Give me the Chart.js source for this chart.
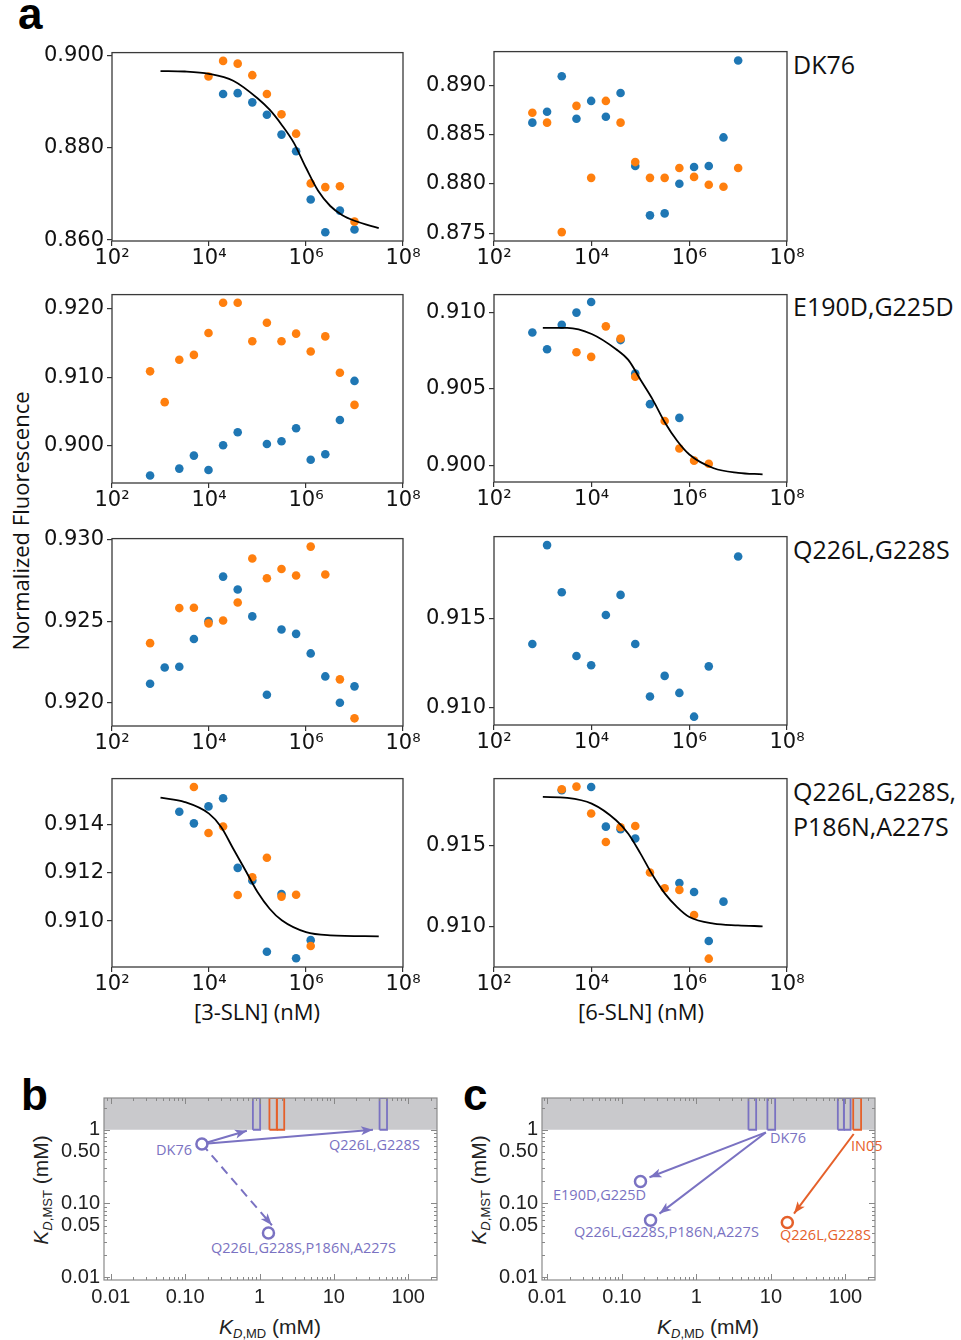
<!DOCTYPE html>
<html><head><meta charset="utf-8">
<script src="https://cdn.jsdelivr.net/npm/chart.js@4.4.1/dist/chart.umd.min.js"></script>
<style>
html,body{margin:0;padding:0;background:#fff}
body{width:961px;height:1340px;position:relative;overflow:hidden}
.t{position:absolute;white-space:nowrap;line-height:1}
.ctr{transform:translate(-50%,-50%)}
.vc{transform:translateY(-50%)}
.rot{transform:translate(-50%,-50%) rotate(-90deg)}
.lab{font-family:'Open Sans';font-size:25px;color:#111}
.ann{font-family:'Open Sans';font-size:14.5px;color:#7a72c2}
.ann.o{color:#e5602a}
.big{font-family:'Liberation Sans';font-weight:bold;font-size:44px;color:#000;line-height:44px}
.ax{font-family:'Liberation Sans';font-size:21px;color:#222}
.ax sub{font-size:13px;vertical-align:-4px;line-height:0}
</style></head><body>

<div class="t big" style="left:18px;top:-8px">a</div>
<div class="t big" style="left:21px;top:1073px">b</div>
<div class="t big" style="left:463px;top:1073px">c</div>

<div class="t lab vc" style="left:793px;top:64px">DK76</div>
<div class="t lab vc" style="left:793px;top:306px">E190D,G225D</div>
<div class="t lab vc" style="left:793px;top:549px">Q226L,G228S</div>
<div class="t lab vc" style="left:793px;top:791px">Q226L,G228S,</div>
<div class="t lab vc" style="left:793px;top:826px">P186N,A227S</div>

<div class="t lab rot" style="left:20px;top:521px;font-size:22px">Normalized Fluorescence</div>
<div class="t lab ctr" style="left:257px;top:1011px;font-size:22px">[3-SLN] (nM)</div>
<div class="t lab ctr" style="left:641px;top:1011px;font-size:22px">[6-SLN] (nM)</div>

<div class="t ax rot" style="left:40px;top:1190px"><i>K</i><sub><i>D</i>,MST</sub> (mM)</div>
<div class="t ax rot" style="left:478px;top:1190px"><i>K</i><sub><i>D</i>,MST</sub> (mM)</div>
<div class="t ax ctr" style="left:270px;top:1326px"><i>K</i><sub><i>D</i>,MD</sub> (mM)</div>
<div class="t ax ctr" style="left:708px;top:1326px"><i>K</i><sub><i>D</i>,MD</sub> (mM)</div>

<div class="t ann" style="right:714px;top:1119px;transform:translateY(-50%)">E190D,G225D</div>
<div class="t ann vc" style="left:156px;top:1150px">DK76</div>
<div class="t ann vc" style="left:329px;top:1145px">Q226L,G228S</div>
<div class="t ann vc" style="left:211px;top:1248px">Q226L,G228S,P186N,A227S</div>

<div class="t ann vc" style="left:770px;top:1138px">DK76</div>
<div class="t ann o vc" style="left:851px;top:1146px">IN05</div>
<div class="t ann vc" style="left:553px;top:1195px">E190D,G225D</div>
<div class="t ann vc" style="left:574px;top:1232px">Q226L,G228S,P186N,A227S</div>
<div class="t ann o vc" style="left:780px;top:1235px">Q226L,G228S</div>

<script>
// ---------- DATA (panel a) ----------
const X_TICKS_A = [1e2, 1e4, 1e6, 1e8];
const X_TICK_LABELS_A = ['10²', '10⁴', '10⁶', '10⁸'];

// Row 1 : DK76
const A1_ORANGE_X = [9766, 19531, 39063, 78125, 156250, 312500, 625000, 1250000, 2500000, 5000000, 10000000];
const A1_ORANGE_Y = [0.8955, 0.8989, 0.8983, 0.8958, 0.8917, 0.8873, 0.8831, 0.8723, 0.8715, 0.8717, 0.8640];
const A1_BLUE_X = [19531, 39063, 78125, 156250, 312500, 625000, 1250000, 2500000, 5000000, 10000000];
const A1_BLUE_Y = [0.8917, 0.8919, 0.8899, 0.8872, 0.8829, 0.8793, 0.8688, 0.8617, 0.8664, 0.8623];
const A1_FIT_X = [1000, 3162, 10000, 31623, 100000, 177828, 316228, 562341, 1000000, 1778279, 3162278, 5623413, 10000000, 31622777];
const A1_FIT_Y = [0.8967, 0.8966, 0.8961, 0.8946, 0.8908, 0.8883, 0.8850, 0.8811, 0.8757, 0.8707, 0.8674, 0.8654, 0.8642, 0.8626];
const A1_Y_TICKS = [0.860, 0.880, 0.900];

const A2_X = [610, 1221, 2441, 4883, 9766, 19531, 39063, 78125, 156250, 312500, 625000, 1250000, 2500000, 5000000, 10000000];
const A2_ORANGE_Y = [0.8872, 0.8862, 0.8751, 0.8879, 0.8806, 0.8884, 0.8862, 0.8822, 0.8806, 0.8806, 0.8816, 0.8807, 0.8799, 0.8797, 0.8816];
const A2_BLUE_Y = [0.8862, 0.8873, 0.8909, 0.8866, 0.8884, 0.8868, 0.8892, 0.8818, 0.8768, 0.8770, 0.8800, 0.8817, 0.8818, 0.8847, 0.8925];
const A2_Y_TICKS = [0.875, 0.880, 0.885, 0.890];

// Row 2 : E190D,G225D
const B1_ORANGE_X = [610, 1221, 2441, 4883, 9766, 19531, 39063, 78125, 156250, 312500, 625000, 1250000, 2500000, 5000000, 10000000];
const B1_ORANGE_Y = [0.9109, 0.9064, 0.9126, 0.9133, 0.9165, 0.9209, 0.9209, 0.9153, 0.9180, 0.9153, 0.9164, 0.9138, 0.9160, 0.9107, 0.9060];
const B1_BLUE_X = [610, 2441, 4883, 9766, 19531, 39063, 156250, 312500, 625000, 1250000, 2500000, 5000000, 10000000];
const B1_BLUE_Y = [0.8957, 0.8967, 0.8986, 0.8965, 0.9001, 0.9020, 0.9003, 0.9007, 0.9026, 0.8980, 0.8988, 0.9038, 0.9095];
const B1_Y_TICKS = [0.900, 0.910, 0.920];

const B2_BLUE_X = [610, 1221, 2441, 4883, 9766, 39063, 78125, 156250, 625000];
const B2_BLUE_Y = [0.9087, 0.9076, 0.9092, 0.9100, 0.9107, 0.9082, 0.9060, 0.9040, 0.9031];
const B2_ORANGE_X = [4883, 9766, 19531, 39063, 78125, 312500, 625000, 1250000, 2500000];
const B2_ORANGE_Y = [0.9074, 0.9071, 0.9091, 0.9083, 0.9058, 0.9029, 0.9011, 0.9003, 0.9001];
const B2_FIT_X = [1000, 3162, 10000, 31623, 56234, 100000, 177828, 316228, 562341, 1000000, 3162278, 10000000, 31622777];
const B2_FIT_Y = [0.9090, 0.9090, 0.9086, 0.9076, 0.9069, 0.9056, 0.9043, 0.9028, 0.9016, 0.9007, 0.8998, 0.8995, 0.8994];
const B2_Y_TICKS = [0.900, 0.905, 0.910];

// Row 3 : Q226L,G228S
const C1_ORANGE_X = [610, 2441, 4883, 9766, 19531, 39063, 78125, 156250, 312500, 625000, 1250000, 2500000, 5000000, 10000000];
const C1_ORANGE_Y = [0.92365, 0.92580, 0.92582, 0.92486, 0.92504, 0.92614, 0.92884, 0.92763, 0.92820, 0.92780, 0.92957, 0.92786, 0.92143, 0.91904];
const C1_BLUE_X = [610, 1221, 2441, 4883, 9766, 19531, 39063, 78125, 156250, 312500, 625000, 1250000, 2500000, 5000000, 10000000];
const C1_BLUE_Y = [0.92116, 0.92216, 0.92220, 0.92390, 0.92500, 0.92773, 0.92694, 0.92529, 0.92049, 0.92449, 0.92422, 0.92302, 0.92161, 0.92000, 0.92100];
const C1_Y_TICKS = [0.920, 0.925, 0.930];

const C2_BLUE_X = [610, 1221, 2441, 4883, 9766, 19531, 39063, 78125, 156250, 312500, 625000, 1250000, 2500000, 10000000];
const C2_BLUE_Y = [0.91358, 0.91916, 0.91650, 0.91290, 0.91238, 0.91522, 0.91635, 0.91358, 0.91062, 0.91178, 0.91082, 0.90948, 0.91232, 0.91852];
const C2_Y_TICKS = [0.910, 0.915];

// Row 4 : Q226L,G228S,P186N,A227S
const D1_ORANGE_X = [4883, 9766, 19531, 39063, 78125, 156250, 312500, 625000, 1250000];
const D1_ORANGE_Y = [0.91554, 0.91364, 0.91391, 0.91108, 0.91181, 0.91262, 0.91101, 0.91109, 0.90897];
const D1_BLUE_X = [2441, 4883, 9766, 19531, 39063, 78125, 156250, 312500, 625000, 1250000];
const D1_BLUE_Y = [0.91452, 0.91404, 0.91474, 0.91508, 0.91220, 0.91168, 0.90873, 0.91112, 0.90846, 0.90921];
const D1_FIT_X = [1000, 3162, 10000, 17783, 31623, 56234, 100000, 177828, 316228, 1000000, 3162278, 31622777];
const D1_FIT_Y = [0.91510, 0.91492, 0.91444, 0.91389, 0.91299, 0.91210, 0.91120, 0.91051, 0.91003, 0.90954, 0.90941, 0.90937];
const D1_Y_TICKS = [0.910, 0.912, 0.914];

const D2_BLUE_X = [2441, 9766, 19531, 39063, 78125, 625000, 1250000, 2500000, 5000000];
const D2_BLUE_Y = [0.91837, 0.91857, 0.91614, 0.91598, 0.91541, 0.91269, 0.91214, 0.90914, 0.91155];
const D2_ORANGE_X = [2441, 4883, 9766, 19531, 39063, 78125, 156250, 312500, 625000, 1250000, 2500000];
const D2_ORANGE_Y = [0.91843, 0.91859, 0.91694, 0.91520, 0.91610, 0.91618, 0.91333, 0.91237, 0.91227, 0.91073, 0.90806];
const D2_FIT_X = [1000, 3162, 10000, 31623, 56234, 100000, 177828, 316228, 562341, 1000000, 3162278, 10000000, 31622777];
const D2_FIT_Y = [0.91796, 0.91790, 0.91755, 0.91653, 0.91571, 0.91449, 0.91316, 0.91204, 0.91122, 0.91061, 0.91020, 0.91010, 0.91004];
const D2_Y_TICKS = [0.910, 0.915];

// ---------- DATA (panels b, c) ----------
const BC_X_TICKS = [0.01, 0.1, 1, 10, 100];
const BC_X_TICK_LABELS = ['0.01', '0.10', '1', '10', '100'];
const BC_Y_TICKS = [0.01, 0.05, 0.1, 0.5, 1];
const BC_Y_TICK_LABELS = ['0.01', '0.05', '0.10', '0.50', '1'];
const ND_THRESHOLD = 1; // K_D,MST above 1 mM not determined (grey band)

const PB_CIRCLE_X = [0.168, 1.32];
const PB_CIRCLE_Y = [0.64, 0.0397];
const PB_PURPLE_BOX_LO = [0.815, 41.2];
const PB_PURPLE_BOX_HI = [1.02, 51.9];
const PB_ORANGE_BOX_LO = [1.36, 1.71];
const PB_ORANGE_BOX_HI = [1.71, 2.15];
const PB_ARROW_FROM = [0.168, 0.64];
const PB_ARROW_TO_X = [0.676, 33.6];
const PB_ARROW_TO_Y = [0.97, 1.0];
const PB_DASH_TO = [1.47, 0.0504];

const PC_PURPLE_CIRCLE_X = [0.178, 0.243];
const PC_PURPLE_CIRCLE_Y = [0.198, 0.059];
const PC_ORANGE_CIRCLE_X = [16.6];
const PC_ORANGE_CIRCLE_Y = [0.055];
const PC_PURPLE_BOX_LO = [5.0, 8.98, 79, 95.2];
const PC_PURPLE_BOX_HI = [6.34, 11.4, 95.2, 117];
const PC_ORANGE_BOX_LO = [127];
const PC_ORANGE_BOX_HI = [162];
const PC_PURPLE_FROM = [8.55, 0.92];
const PC_PURPLE_TO_X = [0.235, 0.32];
const PC_PURPLE_TO_Y = [0.226, 0.0726];
const PC_ORANGE_FROM = [129, 0.875];
const PC_ORANGE_TO = [20.4, 0.0726];

// ---------- STYLE ----------
const BLUE = '#1f77b4', ORANGE = '#ff7f0e';
const PURPLE = '#7a72c2', ORANGE2 = '#e5602a';

const pts = (xs, ys) => xs.map((x, i) => ({x, y: ys[i]}));

const framePlugin = {
  id: 'frame',
  afterDraw(c, args, o) {
    const a = c.chartArea, ctx = c.ctx;
    ctx.save();
    ctx.strokeStyle = o.color; ctx.lineWidth = o.width;
    ctx.strokeRect(a.left, a.top, a.right - a.left, a.bottom - a.top);
    ctx.restore();
  }
};

const innerTicks = {
  id: 'innerTicks',
  afterDraw(c, args, o) {
    if (!o.on) return;
    const a = c.chartArea, ctx = c.ctx, xs = c.scales.x, ys = c.scales.y;
    ctx.save(); ctx.strokeStyle = '#888'; ctx.lineWidth = 1;
    ctx.beginPath();
    for (let e = -3; e <= 3; e++) for (let k = 1; k <= 9; k++) {
      const v = k * Math.pow(10, e), len = k === 1 ? 6 : 3;
      if (v >= xs.min && v <= xs.max) {
        const p = Math.round(xs.getPixelForValue(v)) + 0.5;
        ctx.moveTo(p, a.bottom); ctx.lineTo(p, a.bottom - len);
        ctx.moveTo(p, a.top); ctx.lineTo(p, a.top + len);
      }
      if (v >= ys.min && v <= ys.max) {
        const p = Math.round(ys.getPixelForValue(v)) + 0.5;
        ctx.moveTo(a.left, p); ctx.lineTo(a.left + len, p);
        ctx.moveTo(a.right, p); ctx.lineTo(a.right - len, p);
      }
    }
    ctx.stroke(); ctx.restore();
  }
};

const arrowHeads = {
  id: 'arrowHeads',
  afterDatasetsDraw(c) {
    const ctx = c.ctx;
    c.data.datasets.forEach((ds, i) => {
      if (!ds.arrow) return;
      const m = c.getDatasetMeta(i).data;
      const p1 = m[m.length - 2], p2 = m[m.length - 1];
      const ang = Math.atan2(p2.y - p1.y, p2.x - p1.x);
      const L = 12, W = 4.5;
      ctx.save(); ctx.fillStyle = ds.borderColor;
      ctx.translate(p2.x, p2.y); ctx.rotate(ang);
      ctx.beginPath(); ctx.moveTo(0, 0); ctx.lineTo(-L, -W); ctx.lineTo(-L + 3, 0); ctx.lineTo(-L, W); ctx.closePath(); ctx.fill();
      ctx.restore();
    });
  }
};

function makeChart(L, T, W, H, pad, cfg) {
  const cv = document.createElement('canvas');
  const cw = W + pad.l + pad.r, ch = H + pad.t + pad.b;
  cv.width = cw; cv.height = ch;
  cv.style.cssText = `position:absolute;left:${L - pad.l}px;top:${T - pad.t}px;width:${cw}px;height:${ch}px`;
  document.body.appendChild(cv);
  cfg.options.layout = {padding: {left: 0, top: pad.t, right: pad.r, bottom: 0}};
  cfg.options.responsive = false;
  cfg.options.animation = false;
  cfg.options.devicePixelRatio = 1;
  cfg.options.events = [];
  return new Chart(cv, cfg);
}

function scatterDs(xs, ys, color, order) {
  return {type: 'scatter', data: pts(xs, ys), backgroundColor: color, borderWidth: 0,
          pointRadius: 4.3, pointHoverRadius: 4.3, order, clip: false};
}
function fitDs(xs, ys) {
  return {type: 'line', data: pts(xs, ys), borderColor: '#000', borderWidth: 1.8, pointRadius: 0,
          cubicInterpolationMode: 'monotone', fill: false, order: 0};
}

function panelA(L, T, W, H, yMin, yMax, yTicks, datasets) {
  const pad = {l: 80, t: 15, r: 30, b: 35};
  const grid = {drawOnChartArea: false, drawTicks: true, tickLength: 5, color: '#333', lineWidth: 1.2};
  const font = {family: 'DejaVu Sans', size: 21};
  return makeChart(L, T, W, H, pad, {
    type: 'scatter',
    data: {datasets},
    options: {
      plugins: {legend: {display: false}, tooltip: {enabled: false}, frame: {color: '#3a3a3a', width: 1.3}, innerTicks: {on: false}},
      scales: {
        x: {type: 'logarithmic', min: 1e2, max: 1e8,
            afterBuildTicks: s => { s.ticks = X_TICKS_A.map(v => ({value: v})); },
            afterFit: s => { s.height = pad.b; s.paddingLeft = 0; s.paddingRight = 0; },
            ticks: {autoSkip: false, maxRotation: 0, minRotation: 0, padding: 0, color: '#111', font,
                    callback: (v, i) => X_TICK_LABELS_A[i]},
            grid, border: {display: false}},
        y: {type: 'linear', min: yMin, max: yMax,
            afterBuildTicks: s => { s.ticks = yTicks.map(v => ({value: v})); },
            afterFit: s => { s.width = pad.l; },
            ticks: {autoSkip: false, padding: 3, color: '#111', font, callback: v => v.toFixed(3)},
            grid, border: {display: false}}
      }
    },
    plugins: [framePlugin]
  });
}

// Row 1
panelA(112, 52, 291, 189, 0.8598, 0.9007, A1_Y_TICKS, [
  fitDs(A1_FIT_X, A1_FIT_Y), scatterDs(A1_ORANGE_X, A1_ORANGE_Y, ORANGE, 1), scatterDs(A1_BLUE_X, A1_BLUE_Y, BLUE, 2)]);
panelA(494, 51, 293, 190, 0.8742, 0.8934, A2_Y_TICKS, [
  scatterDs(A2_X, A2_ORANGE_Y, ORANGE, 1), scatterDs(A2_X, A2_BLUE_Y, BLUE, 2)]);
// Row 2
panelA(112, 294, 291, 189, 0.8946, 0.9221, B1_Y_TICKS, [
  scatterDs(B1_ORANGE_X, B1_ORANGE_Y, ORANGE, 1), scatterDs(B1_BLUE_X, B1_BLUE_Y, BLUE, 2)]);
panelA(494, 294, 293, 188, 0.8989, 0.91118, B2_Y_TICKS, [
  fitDs(B2_FIT_X, B2_FIT_Y), scatterDs(B2_ORANGE_X, B2_ORANGE_Y, ORANGE, 1), scatterDs(B2_BLUE_X, B2_BLUE_Y, BLUE, 2)]);
// Row 3
panelA(112, 538, 291, 188, 0.91857, 0.93006, C1_Y_TICKS, [
  scatterDs(C1_ORANGE_X, C1_ORANGE_Y, ORANGE, 1), scatterDs(C1_BLUE_X, C1_BLUE_Y, BLUE, 2)]);
panelA(494, 536, 293, 189, 0.90901, 0.91964, C2_Y_TICKS, [
  scatterDs(C2_BLUE_X, C2_BLUE_Y, BLUE, 2)]);
// Row 4
panelA(112, 778, 291, 189, 0.90810, 0.91589, D1_Y_TICKS, [
  fitDs(D1_FIT_X, D1_FIT_Y), scatterDs(D1_ORANGE_X, D1_ORANGE_Y, ORANGE, 1), scatterDs(D1_BLUE_X, D1_BLUE_Y, BLUE, 2)]);
panelA(494, 778, 293, 189, 0.90755, 0.91908, D2_Y_TICKS, [
  fitDs(D2_FIT_X, D2_FIT_Y), scatterDs(D2_ORANGE_X, D2_ORANGE_Y, ORANGE, 1), scatterDs(D2_BLUE_X, D2_BLUE_Y, BLUE, 2)]);

// ---------- panels b, c ----------
function bandDs(xMin, xMax) {
  return {type: 'line', data: [{x: xMin, y: ND_THRESHOLD}, {x: xMax, y: ND_THRESHOLD}], fill: 'end',
          backgroundColor: '#c9c9cc', borderWidth: 0, pointRadius: 0, order: 20};
}
function boxDs(lo, hi, yTop, color) {
  return {type: 'line', data: [{x: lo, y: ND_THRESHOLD}, {x: lo, y: yTop}, {x: hi, y: yTop}, {x: hi, y: ND_THRESHOLD}, {x: lo, y: ND_THRESHOLD}],
          borderColor: color, borderWidth: 1.8, pointRadius: 0, fill: false, tension: 0, order: 10};
}
function arrowDs(from, to, color, dash) {
  return {type: 'line', data: [{x: from[0], y: from[1]}, {x: to[0], y: to[1]}], borderColor: color, borderWidth: 2,
          borderDash: dash || [], pointRadius: 0, fill: false, order: 5, arrow: true};
}
function circleDs(xs, ys, color) {
  return {type: 'scatter', data: pts(xs, ys), backgroundColor: '#fff', borderColor: color, borderWidth: 2.5,
          pointRadius: 5.5, pointHoverRadius: 5.5, order: 0, clip: false};
}

function panelBC(L, T, W, H, xMin, xMax, yMin, yMax, datasets) {
  const pad = {l: 70, t: 15, r: 30, b: 30};
  const font = {family: 'Liberation Sans', size: 20};
  return makeChart(L, T, W, H, pad, {
    type: 'scatter',
    data: {datasets},
    options: {
      plugins: {legend: {display: false}, tooltip: {enabled: false}, frame: {color: '#8a8a8a', width: 1.2}, innerTicks: {on: true}},
      scales: {
        x: {type: 'logarithmic', min: xMin, max: xMax,
            afterBuildTicks: s => { s.ticks = BC_X_TICKS.map(v => ({value: v})); },
            afterFit: s => { s.height = pad.b; s.paddingLeft = 0; s.paddingRight = 0; },
            ticks: {autoSkip: false, maxRotation: 0, minRotation: 0, padding: 5, color: '#222', font,
                    callback: (v, i) => BC_X_TICK_LABELS[i]},
            grid: {display: false, drawTicks: false}, border: {display: false}},
        y: {type: 'logarithmic', min: yMin, max: yMax,
            afterBuildTicks: s => { s.ticks = BC_Y_TICKS.map(v => ({value: v})); },
            afterFit: s => { s.width = pad.l; },
            ticks: {autoSkip: false, padding: 4, color: '#222', font, callback: (v, i) => BC_Y_TICK_LABELS[i]},
            grid: {display: false, drawTicks: false}, border: {display: false}}
      }
    },
    plugins: [framePlugin, innerTicks, arrowHeads]
  });
}

const B_XMIN = 0.0081, B_XMAX = 244, Y_MIN = 0.0091, Y_MAX = 2.7;
panelBC(104, 1097, 333, 183, B_XMIN, B_XMAX, Y_MIN, Y_MAX, [
  bandDs(B_XMIN, B_XMAX),
  ...PB_PURPLE_BOX_LO.map((lo, i) => boxDs(lo, PB_PURPLE_BOX_HI[i], Y_MAX, PURPLE)),
  ...PB_ORANGE_BOX_LO.map((lo, i) => boxDs(lo, PB_ORANGE_BOX_HI[i], Y_MAX, ORANGE2)),
  ...PB_ARROW_TO_X.map((x, i) => arrowDs(PB_ARROW_FROM, [x, PB_ARROW_TO_Y[i]], PURPLE)),
  arrowDs(PB_ARROW_FROM, PB_DASH_TO, PURPLE, [9, 6]),
  circleDs(PB_CIRCLE_X, PB_CIRCLE_Y, PURPLE)
]);

const C_XMIN = 0.0085, C_XMAX = 249;
panelBC(542, 1097, 333, 183, C_XMIN, C_XMAX, Y_MIN, Y_MAX, [
  bandDs(C_XMIN, C_XMAX),
  ...PC_PURPLE_BOX_LO.map((lo, i) => boxDs(lo, PC_PURPLE_BOX_HI[i], Y_MAX, PURPLE)),
  ...PC_ORANGE_BOX_LO.map((lo, i) => boxDs(lo, PC_ORANGE_BOX_HI[i], Y_MAX, ORANGE2)),
  ...PC_PURPLE_TO_X.map((x, i) => arrowDs(PC_PURPLE_FROM, [x, PC_PURPLE_TO_Y[i]], PURPLE)),
  arrowDs(PC_ORANGE_FROM, PC_ORANGE_TO, ORANGE2),
  circleDs(PC_PURPLE_CIRCLE_X, PC_PURPLE_CIRCLE_Y, PURPLE),
  circleDs(PC_ORANGE_CIRCLE_X, PC_ORANGE_CIRCLE_Y, ORANGE2)
]);
</script>
</body></html>
